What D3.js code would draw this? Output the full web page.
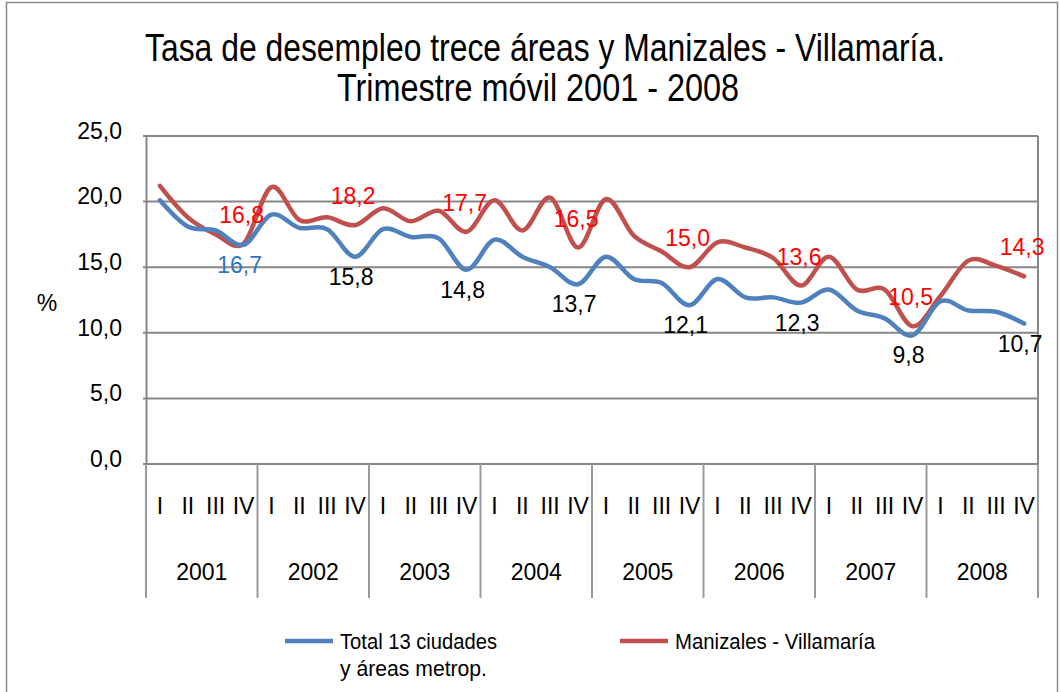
<!DOCTYPE html>
<html>
<head>
<meta charset="utf-8">
<script src="https://cdn.jsdelivr.net/npm/d3@7"></script>
<style>
  body { margin: 0; background: #fff; }
  svg { display: block; font-family: 'Liberation Sans', Arial, sans-serif; }
</style>
</head>
<body>
<div id="chart"></div>
<script>
var years = ['2001', '2002', '2003', '2004', '2005', '2006', '2007', '2008'];
var quarters = ['I', 'II', 'III', 'IV'];

// Total 13 ciudades y áreas metropolitanas
var total13 = [20.1, 18.1, 17.8, 16.7, 19.0, 18.0, 17.9, 15.8,
  17.9, 17.3, 17.2, 14.8, 17.1, 15.8, 15.0, 13.7,
  15.8, 14.1, 13.8, 12.1, 14.1, 12.7, 12.7, 12.3,
  13.3, 11.7, 11.1, 9.8, 12.4, 11.7, 11.6, 10.7];

// Manizales - Villamaría
var manizales = [21.2, 18.8, 17.5, 16.8, 21.1, 18.6, 18.8, 18.2,
  19.5, 18.5, 19.3, 17.7, 20.1, 17.8, 20.3, 16.5,
  20.2, 17.4, 16.2, 15.0, 16.9, 16.5, 15.7, 13.6,
  15.8, 13.3, 13.3, 10.5, 12.8, 15.5, 15.1, 14.3];

var yTicks = [0, 5, 10, 15, 20, 25];

var width = 1060;
var height = 692;
var margin = {top: 136, right: 22, bottom: 228, left: 146};
var fontSize = 23;

var locale = d3.formatLocale({decimal: ',', thousands: '.', grouping: [3], currency: ['$', '']});
var fmt = locale.format('.1f');

var svg = d3.select('#chart').append('svg')
  .attr('width', width)
  .attr('height', height);

// outer frame
svg.append('rect')
  .attr('x', 6.5).attr('y', 2.5)
  .attr('width', width - 9).attr('height', height + 10)
  .attr('fill', 'none')
  .attr('stroke', '#8c8c8c')
  .attr('stroke-width', 1.5);

var points = [];
years.forEach(function (yr) {
  quarters.forEach(function (q) {
    points.push(yr + '-' + q);
  });
});

var x = d3.scaleBand()
  .domain(points)
  .range([margin.left, width - margin.right]);

var y = d3.scaleLinear()
  .domain([0, 25])
  .range([height - margin.bottom, margin.top]);

// title
var title = svg.append('g').attr('class', 'title');
title.append('text')
  .attr('x', 545).attr('y', 61)
  .attr('text-anchor', 'middle')
  .attr('font-size', 38)
  .attr('textLength', 800)
  .attr('lengthAdjust', 'spacingAndGlyphs')
  .text('Tasa de desempleo trece áreas y Manizales - Villamaría.');
title.append('text')
  .attr('x', 538).attr('y', 101)
  .attr('text-anchor', 'middle')
  .attr('font-size', 38)
  .attr('textLength', 402)
  .attr('lengthAdjust', 'spacingAndGlyphs')
  .text('Trimestre móvil 2001 - 2008');

// gridlines
svg.append('g')
  .attr('class', 'grid')
  .selectAll('line')
  .data(yTicks)
  .enter()
  .append('line')
  .attr('x1', margin.left - 3)
  .attr('x2', width - margin.right)
  .attr('y1', function (d) { return y(d); })
  .attr('y2', function (d) { return y(d); })
  .attr('stroke', '#878787')
  .attr('stroke-width', 2);

// y axis
var yAxis = svg.append('g')
  .attr('transform', 'translate(' + margin.left + ',0)')
  .call(d3.axisLeft(y).tickValues(yTicks).tickFormat(fmt).tickSize(0).tickPadding(24));
yAxis.select('.domain').attr('stroke', '#878787').attr('stroke-width', 2);
yAxis.selectAll('text')
  .attr('font-size', fontSize)
  .attr('font-family', "'Liberation Sans', Arial, sans-serif")
  .attr('fill', '#000')
  .attr('dy', '0.1em');

// right border of plot
svg.append('line')
  .attr('x1', width - margin.right).attr('x2', width - margin.right)
  .attr('y1', margin.top).attr('y2', y(0))
  .attr('stroke', '#878787').attr('stroke-width', 2);

svg.append('text')
  .attr('x', 47).attr('y', 311)
  .attr('text-anchor', 'middle')
  .attr('font-size', fontSize)
  .text('%');

// category axis: quarters and years
var catBottom = 598;
var yearW = x.bandwidth() * quarters.length;
var dividers = d3.range(years.length + 1).map(function (i) {
  return margin.left + i * yearW;
});

svg.append('g')
  .selectAll('line')
  .data(dividers)
  .enter()
  .append('line')
  .attr('x1', function (d) { return d; })
  .attr('x2', function (d) { return d; })
  .attr('y1', y(0))
  .attr('y2', catBottom)
  .attr('stroke', '#9a9a9a')
  .attr('stroke-width', 2);

svg.append('g')
  .selectAll('text')
  .data(points)
  .enter()
  .append('text')
  .attr('x', function (d) { return x(d) + x.bandwidth() / 2; })
  .attr('y', 514)
  .attr('text-anchor', 'middle')
  .attr('font-size', fontSize)
  .text(function (d) { return d.split('-')[1]; });

svg.append('g')
  .selectAll('text')
  .data(years)
  .enter()
  .append('text')
  .attr('x', function (d, i) { return margin.left + (i + 0.5) * yearW; })
  .attr('y', 580)
  .attr('text-anchor', 'middle')
  .attr('font-size', fontSize)
  .text(function (d) { return d; });

// lines
var line = d3.line()
  .x(function (d, i) { return x(points[i]) + x.bandwidth() / 2; })
  .y(function (d) { return y(d); })
  .curve(d3.curveCardinal.tension(0));

var series = [
  {name: 'Manizales', values: manizales, color: '#C0504D'},
  {name: 'Total', values: total13, color: '#4F81BD'}
];

svg.append('g')
  .selectAll('path')
  .data(series)
  .enter()
  .append('path')
  .attr('d', function (d) { return line(d.values); })
  .attr('fill', 'none')
  .attr('stroke', function (d) { return d.color; })
  .attr('stroke-width', 4.5)
  .attr('stroke-linejoin', 'round')
  .attr('stroke-linecap', 'round');

// data labels on fourth quarter of each year
var q4 = d3.range(years.length).map(function (i) { return i * 4 + 3; });

svg.append('g')
  .selectAll('text')
  .data(q4)
  .enter()
  .append('text')
  .attr('x', function (i) { return x(points[i]) + x.bandwidth() / 2 - 2; })
  .attr('y', function (i) { return y(manizales[i]) - 21; })
  .attr('text-anchor', 'middle')
  .attr('font-size', fontSize)
  .attr('fill', '#FF0000')
  .text(function (i) { return fmt(manizales[i]); });

svg.append('g')
  .selectAll('text')
  .data(q4)
  .enter()
  .append('text')
  .attr('x', function (i) { return x(points[i]) + x.bandwidth() / 2 - 4; })
  .attr('y', function (i) { return y(total13[i]) + 28; })
  .attr('text-anchor', 'middle')
  .attr('font-size', fontSize)
  .attr('fill', function (i, k) { return k === 0 ? '#2E75C6' : '#000'; })
  .text(function (i) { return fmt(total13[i]); });

// legend
var legend = svg.append('g').attr('class', 'legend');
var legendItems = [
  {x: 285, color: '#4F81BD', lines: ['Total 13 ciudades', 'y áreas metrop.'], lens: [157, 147]},
  {x: 620, color: '#C0504D', lines: ['Manizales - Villamaría'], lens: [200]}
];
legendItems.forEach(function (item) {
  var g = legend.append('g');
  g.append('line')
    .attr('x1', item.x).attr('x2', item.x + 48)
    .attr('y1', 641).attr('y2', 641)
    .attr('stroke', item.color)
    .attr('stroke-width', 4.5);
  item.lines.forEach(function (t, j) {
    g.append('text')
      .attr('x', item.x + 55)
      .attr('y', 649 + j * 27)
      .attr('font-size', 22)
      .attr('textLength', item.lens[j])
      .attr('lengthAdjust', 'spacingAndGlyphs')
      .text(t);
  });
});
</script>
</body>
</html>
